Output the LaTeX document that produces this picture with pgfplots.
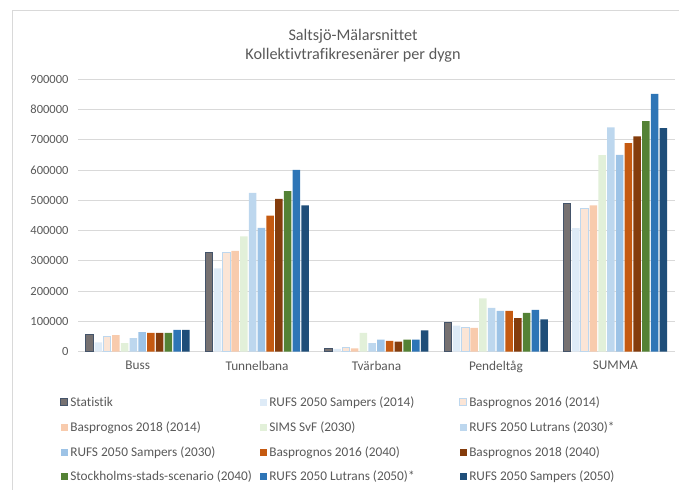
\documentclass[border=0pt]{standalone}
\usepackage{pgfplots}
\pgfplotsset{compat=1.18}
\usepackage{pgfplotstable}
\usepackage{fontspec}
\setmainfont[Ligatures={NoCommon}]{Carlito}
\definecolor{txt}{HTML}{595959}
\definecolor{gridc}{HTML}{D9D9D9}
\definecolor{c0}{HTML}{767171}
\definecolor{c0d}{HTML}{44546A}
\definecolor{c1}{HTML}{DEEBF7}
\definecolor{c2}{HTML}{FBE5D6}
\definecolor{c3}{HTML}{F8CBAD}
\definecolor{c4}{HTML}{E2F0D9}
\definecolor{c5}{HTML}{BDD7EE}
\definecolor{c6}{HTML}{9DC3E6}
\definecolor{c7}{HTML}{C55A11}
\definecolor{c8}{HTML}{843C0C}
\definecolor{c9}{HTML}{548235}
\definecolor{c10}{HTML}{2E75B6}
\definecolor{c11}{HTML}{1F4E79}
\pgfplotstableread{
x s0 s1 s2 s3 s4 s5 s6 s7 s8 s9 s10 s11
0 57000 31000 51000 55000 28000 45000 65000 62000 62000 62000 72000 72000
1 326000 275000 326000 333000 381000 524000 409000 449000 504000 530000 600000 483000
2 11000 9000 14000 11000 62000 28000 40000 36000 33000 40000 40000 70000
3 97000 86000 79000 79000 176000 145000 135000 135000 111000 128000 138000 107000
4 488000 408000 472000 483000 649000 740000 650000 688000 711000 761000 851000 738000
}\data
\newcommand{\legE}[1]{\addlegendentry{\makebox[188bp][l]{#1}}}
\begin{document}
\begin{tikzpicture}
\path[use as bounding box] (0,0) rectangle (679bp,490bp);
\draw[gridc, line width=0.75bp] (12bp,0) -- (12bp,480bp) -- (679bp,480bp);
\node[font=\fontsize{16.2bp}{18.5bp}\selectfont, text=txt, align=center] at (353bp,444bp) {Saltsjö-Mälarsnittet\\Kollektivtrafikresenärer per dygn};
\begin{axis}[
  at={(78bp,138.3bp)}, anchor=south west,
  scale only axis, width=597bp, height=272.7bp,
  ybar=1.25bp, bar width=7.5bp,
  xmin=-0.5, xmax=4.5, ymin=0, ymax=900000,
  xtick=data, xticklabels={Buss,Tunnelbana,Tvärbana,Pendeltåg,SUMMA},
  ytick={0,100000,...,900000},
  scaled y ticks=false,
  yticklabel style={font=\fontsize{12.5bp}{14bp}\selectfont, xshift=-6bp, /pgf/number format/fixed, /pgf/number format/1000 sep={}, /pgf/number format/assume math mode=true},
  xticklabel style={font=\fontsize{13.3bp}{15bp}\selectfont, yshift=-6bp},
  axis lines*=left,
  y axis line style={draw=none},
  x axis line style={draw=gridc, line width=0.75bp, -},
  major tick length=0pt,
  ymajorgrids, grid style={draw=gridc, line width=0.75bp},
  tick label style={text=txt},
  legend columns=3,
  legend cell align=left,
  legend style={at={(-0.035,-0.15)}, anchor=north west, draw=none, fill=none,
    font=\fontsize{13.3bp}{15bp}\selectfont, text=txt, row sep=9.6bp, column sep=0bp},
  legend image code/.code={\fill[#1] (0bp,-3.5bp) rectangle (7bp,3.5bp);},
]
\addplot[fill=c0, draw=c0d, line width=1bp] table[x=x,y=s0]{\data}; \legE{Statistik}
\addplot[fill=c1, draw=none] table[x=x,y=s1]{\data}; \legE{RUFS 2050 Sampers (2014)}
\addplot[fill=c2, draw=c5, line width=1bp] table[x=x,y=s2]{\data}; \legE{Basprognos 2016 (2014)}
\addplot[fill=c3, draw=none] table[x=x,y=s3]{\data}; \legE{Basprognos 2018 (2014)}
\addplot[fill=c4, draw=none] table[x=x,y=s4]{\data}; \legE{SIMS SvF (2030)}
\addplot[fill=c5, draw=none] table[x=x,y=s5]{\data}; \legE{RUFS 2050 Lutrans (2030)*}
\addplot[fill=c6, draw=none] table[x=x,y=s6]{\data}; \legE{RUFS 2050 Sampers (2030)}
\addplot[fill=c7, draw=none] table[x=x,y=s7]{\data}; \legE{Basprognos 2016 (2040)}
\addplot[fill=c8, draw=none] table[x=x,y=s8]{\data}; \legE{Basprognos 2018 (2040)}
\addplot[fill=c9, draw=none] table[x=x,y=s9]{\data}; \legE{Stockholms-stads-scenario (2040)}
\addplot[fill=c10, draw=none] table[x=x,y=s10]{\data}; \legE{RUFS 2050 Lutrans (2050)*}
\addplot[fill=c11, draw=none] table[x=x,y=s11]{\data}; \legE{RUFS 2050 Sampers (2050)}
\end{axis}
\end{tikzpicture}
\end{document}
